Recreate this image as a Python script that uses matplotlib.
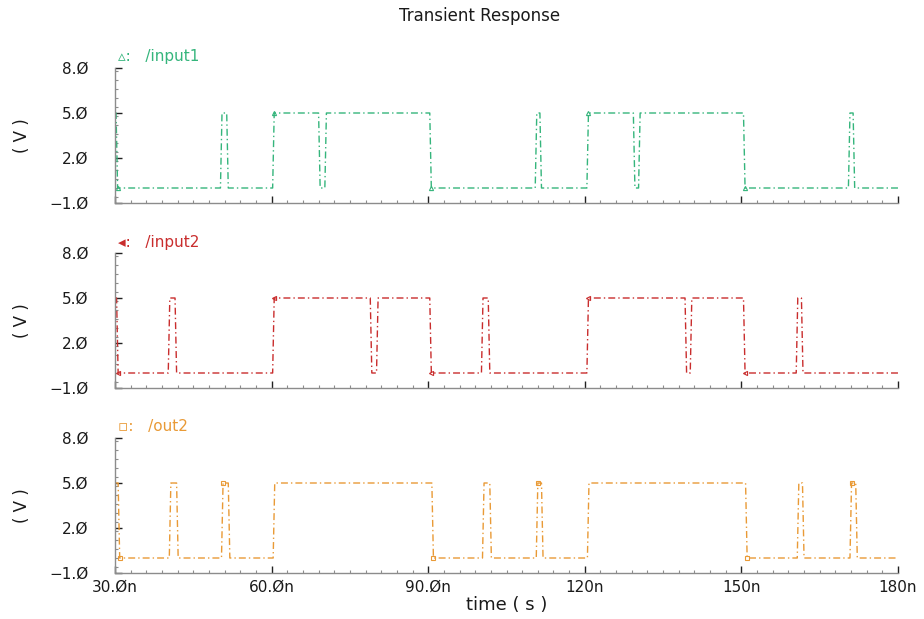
"""
Transient response of the two inputs and the output node, redrawn as
three stacked waveform panels.
"""
import numpy as np

import matplotlib
matplotlib.use("Agg")

import matplotlib.pyplot as plt
from matplotlib.ticker import FixedLocator, MultipleLocator

plt.rcParams['font.family'] = ['DejaVu Sans']

T_START = 30.0
T_STOP = 180.0
V_LOW = 0.0
V_HIGH = 5.0

# switching instants in ns; every signal is high at 30n
input1_edges = [30.2, 50.2, 51.4, 60.2, 69.0, 70.2, 90.3, 110.5, 111.4,
                120.4, 129.3, 130.3, 150.4, 170.5, 171.4]
input2_edges = [30.3, 40.2, 41.5, 60.2, 78.9, 80.1, 90.3, 100.2, 101.5,
                120.4, 139.2, 140.2, 150.4, 160.5, 161.5]
out2_edges = [30.6, 40.4, 41.8, 50.4, 51.7, 60.3, 90.7, 100.4, 101.8,
              110.7, 111.7, 120.5, 150.8, 160.7, 161.7, 170.8, 171.9]

signal_names = ['/input1', '/input2', '/out2']
signal_colors = ['#35b57c', '#c92d2d', '#e99a36']
signal_glyphs = [u'\u25b5', u'\u25c2', u'\u25ab']
signal_markers = ['^', '<', 's']

y_ticks = [-1.0, 2.0, 5.0, 8.0]
y_tick_labels = [u'\u22121.\u00d8', u'2.\u00d8', u'5.\u00d8', u'8.\u00d8']
x_ticks = [30, 60, 90, 120, 150, 180]
x_tick_labels = [u'30.\u00d8n', u'60.\u00d8n', u'90.\u00d8n',
                 u'120n', u'150n', u'180n']

_W, _H = 924.0, 619.0
# panel tops in pixels from the top of the picture
_PANEL_TOPS = [68, 253, 438]
_PANEL_HEIGHT = 135
_LEFT, _RIGHT = 115, 898


def waveform(edges, rise=0.3):
  """Turns a list of switching instants into a trapezoidal waveform."""
  t = [T_START]
  v = [V_HIGH]
  level = V_HIGH
  for edge in edges:
    t.append(edge)
    v.append(level)
    level = V_LOW if level == V_HIGH else V_HIGH
    t.append(edge + rise)
    v.append(level)
  t.append(T_STOP)
  v.append(level)
  return np.array(t), np.array(v)


def style_axis(axs, show_labels):
  """Cadence-like axis: only left and bottom lines, ticks pointing in."""
  for side in ('top', 'right'):
    axs.spines[side].set_visible(False)
  for side in ('left', 'bottom'):
    axs.spines[side].set_color('#8c8c8c')
    axs.spines[side].set_linewidth(1.0)

  axs.set_xlim(T_START, T_STOP)
  axs.set_ylim(-1.0, 8.0)
  axs.xaxis.set_major_locator(FixedLocator(x_ticks))
  axs.xaxis.set_minor_locator(MultipleLocator(3))
  axs.yaxis.set_major_locator(FixedLocator(y_ticks))
  axs.yaxis.set_minor_locator(MultipleLocator(0.6))
  axs.set_yticklabels(y_tick_labels)
  if show_labels:
    axs.set_xticklabels(x_tick_labels)
  else:
    axs.set_xticklabels([])

  axs.tick_params(which='major', direction='in', length=5, width=1.0,
                  color='#222222', labelsize=11, labelcolor='#1a1a1a')
  axs.tick_params(which='minor', direction='in', length=2.3, width=0.8,
                  color='#8c8c8c')
  axs.tick_params(axis='y', which='major', pad=19)
  axs.tick_params(axis='x', which='major', pad=5)


def draw_graph():
  """Draws the three waveform panels."""
  figure = plt.figure(figsize=(_W / 100, _H / 100), dpi=100)
  all_edges = [input1_edges, input2_edges, out2_edges]

  for i, edges in enumerate(all_edges):
    top = _PANEL_TOPS[i]
    rect = [_LEFT / _W, 1 - (top + _PANEL_HEIGHT) / _H,
            (_RIGHT - _LEFT) / _W, _PANEL_HEIGHT / _H]
    axs = figure.add_axes(rect)
    t, v = waveform(edges)
    axs.plot(t, v, color=signal_colors[i], linewidth=1.0,
             dashes=(5, 2.2, 1, 2.2), marker=signal_markers[i],
             markersize=3, markevery=(2, 6), markerfacecolor='none',
             markeredgewidth=0.8, clip_on=False)
    style_axis(axs, i == 2)

    figure.text((_LEFT + 3) / _W, 1 - (top - 11) / _H,
                signal_glyphs[i] + ':   ' + signal_names[i],
                color=signal_colors[i], fontsize=11, va='center',
                ha='left')
    figure.text(22 / _W, 1 - (top + _PANEL_HEIGHT / 2.0) / _H, '( V )',
                rotation=90, fontsize=12, va='center', ha='center',
                color='#1a1a1a')

  figure.text(480 / _W, 1 - 16 / _H, 'Transient Response', fontsize=12,
              ha='center', va='center', color='#1a1a1a')
  figure.text((_LEFT + _RIGHT) / 2.0 / _W, 1 - 605 / _H, 'time ( s )',
              fontsize=13, ha='center', va='center', color='#1a1a1a')

  figure.savefig('out.png', dpi=100)
  plt.close(figure)


if __name__ == "__main__":
  draw_graph()
